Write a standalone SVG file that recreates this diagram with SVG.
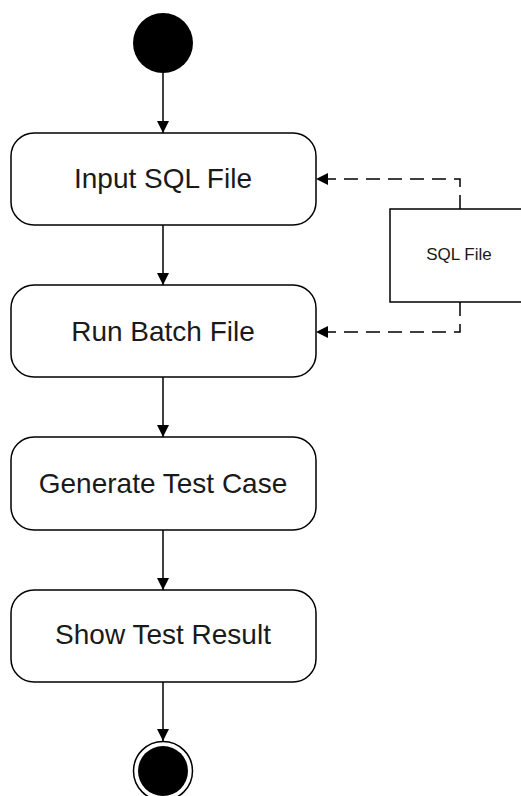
<svg xmlns="http://www.w3.org/2000/svg" width="521" height="796" viewBox="0 0 521 796">
<defs>
<style>
.act{fill:#fff;stroke:#000;stroke-width:1.5}
.lbl{font-family:"Liberation Sans",Arial,sans-serif;font-size:28px;fill:#1a1a1a;text-anchor:middle}
.small{font-family:"Liberation Sans",Arial,sans-serif;font-size:17px;fill:#1a1a1a;text-anchor:middle}
.flow{fill:none;stroke:#000;stroke-width:1.5}
.dash{fill:none;stroke:#000;stroke-width:1.5;stroke-dasharray:14 8}
</style>
<marker id="arr" markerWidth="12" markerHeight="12" refX="12" refY="6" orient="auto" markerUnits="userSpaceOnUse">
<path d="M0,0 L12,6 L0,12 Z" fill="#000" stroke="none"/>
</marker>
</defs>
<rect width="521" height="796" fill="#fff"/>
<g id="start"><circle cx="163" cy="43" r="30" fill="#000"/></g>
<g id="input-sql"><rect class="act" x="11" y="133" width="305" height="92" rx="23"/><text class="lbl" x="163" y="188">Input SQL File</text></g>
<g id="run-batch"><rect class="act" x="11" y="285" width="305" height="92" rx="23"/><text class="lbl" x="163" y="341">Run Batch File</text></g>
<g id="generate"><rect class="act" x="11" y="437" width="305" height="93" rx="23"/><text class="lbl" x="163" y="493">Generate Test Case</text></g>
<g id="show"><rect class="act" x="11" y="590" width="305" height="92" rx="23"/><text class="lbl" x="163" y="644">Show Test Result</text></g>
<g id="sql-file"><rect class="act" x="390" y="209" width="150" height="93"/><text class="small" x="459" y="260">SQL File</text></g>
<g id="end"><circle cx="163" cy="771" r="29.5" fill="#fff" stroke="#000" stroke-width="1.5"/><circle cx="163" cy="771" r="25" fill="#000"/></g>
<g id="connectors">
<path class="flow" d="M163,73 V133" marker-end="url(#arr)"/>
<path class="flow" d="M163,225 V285" marker-end="url(#arr)"/>
<path class="flow" d="M163,377 V437" marker-end="url(#arr)"/>
<path class="flow" d="M163,530 V590" marker-end="url(#arr)"/>
<path class="flow" d="M163,682 V741" marker-end="url(#arr)"/>
<path class="dash" d="M460,209 V179 H316" marker-end="url(#arr)"/>
<path class="dash" d="M460,302 V332 H316" marker-end="url(#arr)"/>
</g>
</svg>
